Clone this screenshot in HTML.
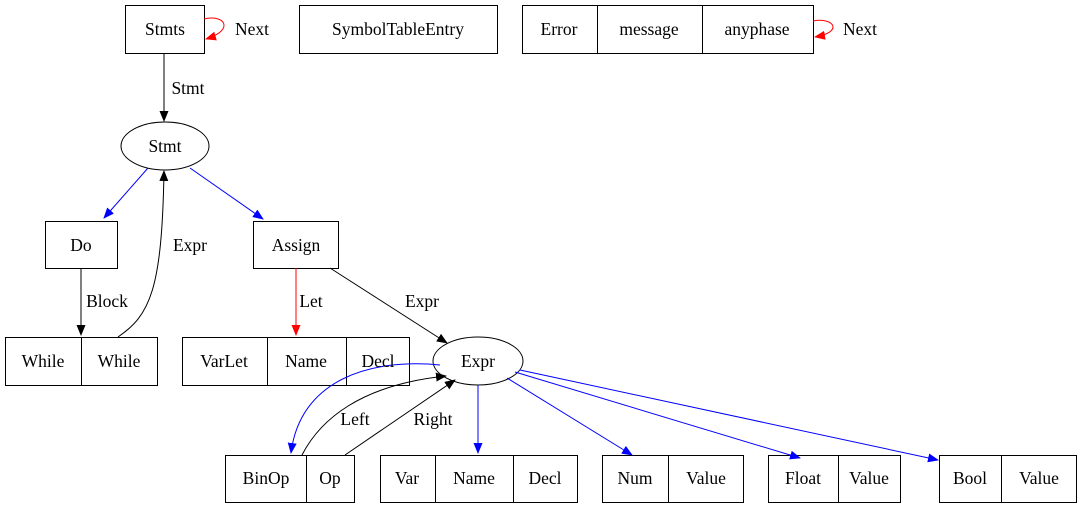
<!DOCTYPE html>
<html><head><meta charset="utf-8"><style>
html,body{margin:0;padding:0;background:#fff;}
svg{display:block;}
svg text{font-family:"Liberation Serif","DejaVu Serif","Times New Roman",serif;font-size:17.5px;fill:#000;text-anchor:middle;dominant-baseline:central;}
</style></head><body>
<svg width="1083" height="509" viewBox="0 0 1083 509" xmlns="http://www.w3.org/2000/svg" font-family="Liberation Serif, serif">
<defs>
<marker id="ab" markerWidth="11" markerHeight="9" refX="10" refY="4.5" orient="auto" markerUnits="userSpaceOnUse"><path d="M0,0 L11,4.5 L0,9 Z" fill="#000"/></marker>
<marker id="abl" markerWidth="11" markerHeight="9" refX="10" refY="4.5" orient="auto" markerUnits="userSpaceOnUse"><path d="M0,0 L11,4.5 L0,9 Z" fill="#00f"/></marker>
<marker id="ar" markerWidth="11" markerHeight="9" refX="10" refY="4.5" orient="auto" markerUnits="userSpaceOnUse"><path d="M0,0 L11,4.5 L0,9 Z" fill="#f00"/></marker>
</defs>
<g fill="none" stroke="#000" stroke-width="1">
<rect x="125.5" y="5.5" width="79" height="48"/>
<rect x="299.5" y="5.5" width="198" height="48"/>
<rect x="522.5" y="5.5" width="291" height="48"/>
<line x1="597.5" y1="5" x2="597.5" y2="53"/><line x1="702.5" y1="5" x2="702.5" y2="53"/>
<ellipse cx="165" cy="146" rx="44" ry="24"/>
<rect x="45.5" y="221.5" width="72" height="47"/>
<rect x="253.5" y="221.5" width="85" height="47"/>
<rect x="5.5" y="337.5" width="152" height="48"/><line x1="81.5" y1="337" x2="81.5" y2="385"/>
<rect x="182.5" y="337.5" width="227" height="48"/><line x1="267.5" y1="337" x2="267.5" y2="385"/><line x1="346.5" y1="337" x2="346.5" y2="385"/>
<ellipse cx="478" cy="361" rx="45" ry="24" fill="#fff"/>
<rect x="225.5" y="455.5" width="129" height="47"/><line x1="306.5" y1="455" x2="306.5" y2="502"/>
<rect x="380.5" y="455.5" width="197" height="47"/><line x1="435.5" y1="455" x2="435.5" y2="502"/><line x1="513.5" y1="455" x2="513.5" y2="502"/>
<rect x="602.5" y="455.5" width="141" height="47"/><line x1="668.5" y1="455" x2="668.5" y2="502"/>
<rect x="768.5" y="455.5" width="132" height="47"/><line x1="838.5" y1="455" x2="838.5" y2="502"/>
<rect x="939.5" y="455.5" width="137" height="47"/><line x1="1001.5" y1="455" x2="1001.5" y2="502"/>
</g>
<g fill="none" stroke-width="1">
<path d="M204,19 C225,14 235,30 206,39" stroke="#f00" marker-end="url(#ar)"/>
<path d="M813,21 C834,17 844,32 815,37" stroke="#f00" marker-end="url(#ar)"/>
<path d="M164,53 L164,121" stroke="#000" marker-end="url(#ab)"/>
<path d="M148,168 L104,218" stroke="#00f" marker-end="url(#abl)"/>
<path d="M190,168 L263,219" stroke="#00f" marker-end="url(#abl)"/>
<path d="M81,268 L81,335" stroke="#000" marker-end="url(#ab)"/>
<path d="M118,337 C150,315 162,290 164,171" stroke="#000" marker-end="url(#ab)"/>
<path d="M296,268 L296,335" stroke="#f00" marker-end="url(#ar)"/>
<path d="M330,268 L447,343" stroke="#000" marker-end="url(#ab)"/>
<path d="M440,365 C370,358 300,380 291,453" stroke="#00f" marker-end="url(#abl)"/>
<path d="M302,455 C320,420 360,385 446,376" stroke="#000" marker-end="url(#ab)"/>
<path d="M345,455 L455,380" stroke="#000" marker-end="url(#ab)"/>
<path d="M478,385 L478,453" stroke="#00f" marker-end="url(#abl)"/>
<path d="M507,378 L632,455" stroke="#00f" marker-end="url(#abl)"/>
<path d="M515,372 L800,458" stroke="#00f" marker-end="url(#abl)"/>
<path d="M520,370 L938,460" stroke="#00f" marker-end="url(#abl)"/>
</g>
<text x="165" y="29">Stmts</text>
<text x="252" y="29">Next</text>
<text x="398" y="29">SymbolTableEntry</text>
<text x="559" y="29">Error</text>
<text x="649" y="29">message</text>
<text x="757" y="29">anyphase</text>
<text x="860" y="29">Next</text>
<text x="188" y="88">Stmt</text>
<text x="165" y="146">Stmt</text>
<text x="81" y="245">Do</text>
<text x="296" y="245">Assign</text>
<text x="190" y="245">Expr</text>
<text x="107" y="301">Block</text>
<text x="311" y="301">Let</text>
<text x="422" y="301">Expr</text>
<text x="43" y="361">While</text>
<text x="119" y="361">While</text>
<text x="224" y="361">VarLet</text>
<text x="306" y="361">Name</text>
<text x="378" y="361">Decl</text>
<text x="478" y="361">Expr</text>
<text x="355" y="419">Left</text>
<text x="433" y="419">Right</text>
<text x="266" y="478">BinOp</text>
<text x="330" y="478">Op</text>
<text x="407" y="478">Var</text>
<text x="474" y="478">Name</text>
<text x="545" y="478">Decl</text>
<text x="635" y="478">Num</text>
<text x="706" y="478">Value</text>
<text x="803" y="478">Float</text>
<text x="869" y="478">Value</text>
<text x="970" y="478">Bool</text>
<text x="1039" y="478">Value</text>
</svg>
</body></html>
